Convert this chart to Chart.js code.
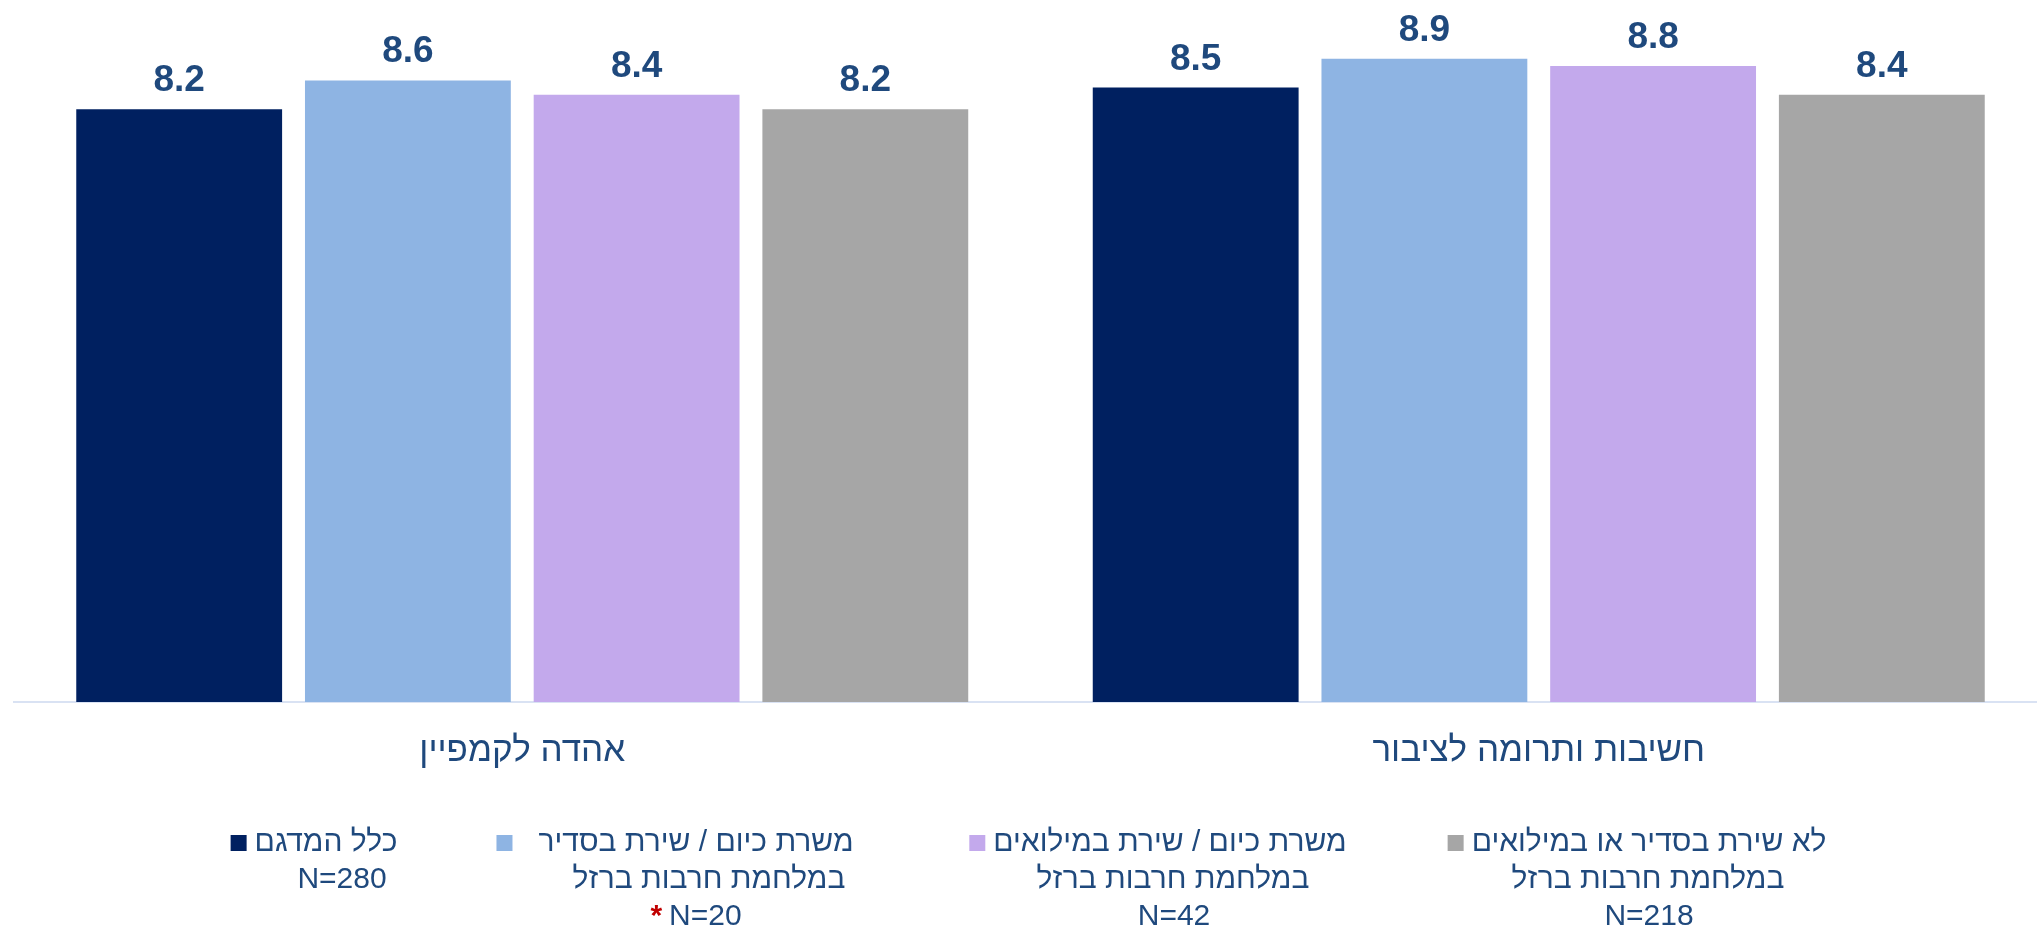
<!DOCTYPE html>
<html lang="he">
<head>
  <meta charset="UTF-8" />
  <title>אהדה לקמפיין וחשיבות ותרומה לציבור</title>
  <script src="https://cdn.jsdelivr.net/npm/chart.js"></script>
  <style>
    html, body { margin: 0; padding: 0; background: #fff; overflow: hidden; }
    #wrap { width: 2037px; height: 928px; overflow: hidden; }
    canvas { display: block; }
  </style>
</head>
<body>
  <div id="wrap">
    <canvas id="chart" width="2047" height="928"></canvas>
  </div>

  <script>
    const categories = ['אהדה לקמפיין', 'חשיבות ותרומה לציבור'];

    const kolHamidgam = [8.2, 8.5];
    const sadir = [8.6, 8.9];
    const miluim = [8.4, 8.8];
    const loSherut = [8.2, 8.4];

    const seriesLabels = ['כלל המדגם', 'משרת כיום / שירת בסדיר', 'משרת כיום / שירת במילואים', 'לא שירת בסדיר או במילואים'];
    const legendLines = [
      ['כלל המדגם', 'N=280'],
      ['משרת כיום / שירת בסדיר', 'במלחמת חרבות ברזל', '* N=20'],
      ['משרת כיום / שירת במילואים', 'במלחמת חרבות ברזל', 'N=42'],
      ['לא שירת בסדיר או במילואים', 'במלחמת חרבות ברזל', 'N=218']
    ];

    const colors = ['#002060', '#8EB4E3', '#C3A9EC', '#A6A6A6'];
    const textBlue = '#1F497D';
    const hebFont = "'Liberation Sans', Arial, sans-serif";

    // value above each bar
    const valueLabels = {
      id: 'valueLabels',
      afterDatasetsDraw(chart) {
        const ctx = chart.ctx;
        ctx.save();
        ctx.font = "bold 37px " + hebFont;
        ctx.fillStyle = textBlue;
        ctx.textAlign = 'center';
        ctx.textBaseline = 'alphabetic';
        chart.data.datasets.forEach((ds, i) => {
          chart.getDatasetMeta(i).data.forEach((bar, j) => {
            ctx.fillText(ds.data[j].toFixed(1), bar.x, bar.y - 18);
          });
        });
        ctx.restore();
      }
    };

    // multi-line legend under the categories
    const legendBlock = {
      id: 'legendBlock',
      afterDraw(chart) {
        const ctx = chart.ctx;
        const lineCenters = [[326, 342], [696, 709, 696], [1170, 1173, 1174], [1649, 1648, 1649]];
        const markerGap = [8, 26, 8, 8];
        const rows = [843, 880, 917];
        const font = "30px " + hebFont;
        ctx.save();
        ctx.font = font;
        ctx.textBaseline = 'middle';
        ctx.textAlign = 'center';
        ctx.direction = 'rtl';
        legendLines.forEach((lines, i) => {
          lines.forEach((line, k) => {
            const cx = lineCenters[i][k];
            const y = rows[k];
            if (line.startsWith('*')) {
              // red asterisk marks a small group
              const rest = line.slice(2);
              ctx.font = "bold 30px " + hebFont;
              const wStar = ctx.measureText('*').width;
              ctx.font = font;
              const wRest = ctx.measureText(rest).width;
              const left = cx - (wStar + 7 + wRest) / 2;
              ctx.fillStyle = textBlue;
              ctx.fillText(rest, left + wStar + 7 + wRest / 2, y);
              ctx.fillStyle = '#C00000';
              ctx.font = "bold 30px " + hebFont;
              ctx.fillText('*', left + wStar / 2, y);
              ctx.font = font;
            } else {
              ctx.fillStyle = textBlue;
              ctx.fillText(line, cx, y);
            }
          });
          const w = ctx.measureText(lines[0]).width;
          const textLeft = lineCenters[i][0] - w / 2;
          ctx.fillStyle = colors[i];
          ctx.fillRect(textLeft - markerGap[i] - 16, rows[0] - 8, 16, 16);
        });
        ctx.restore();
      }
    };

    const datasets = [kolHamidgam, sadir, miluim, loSherut].map((data, i) => ({
      label: seriesLabels[i],
      data: data,
      backgroundColor: colors[i],
      categoryPercentage: 0.9,
      barPercentage: 0.9
    }));

    new Chart(document.getElementById('chart'), {
      type: 'bar',
      data: { labels: categories, datasets: datasets },
      options: {
        responsive: false,
        animation: false,
        layout: { padding: { left: 14, right: 0, top: 11, bottom: 128 } },
        plugins: {
          legend: { display: false },
          tooltip: { enabled: false }
        },
        scales: {
          y: { display: false, min: 0, max: 9.56 },
          x: {
            grid: { display: false, drawTicks: false },
            border: { display: true, color: '#D9E2F3', width: 2 },
            ticks: {
              color: textBlue,
              padding: 28,
              font: { family: hebFont, size: 35, lineHeight: 1.2 }
            }
          }
        }
      },
      plugins: [valueLabels, legendBlock]
    });
  </script>
</body>
</html>
